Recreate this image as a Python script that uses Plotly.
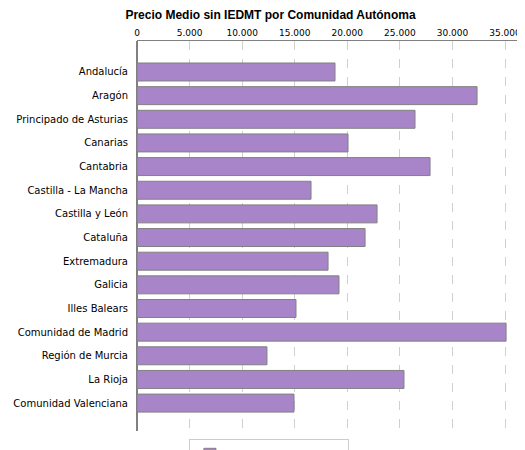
import plotly.graph_objects as go

comunidades = ["Andalucía", "Aragón", "Principado de Asturias", "Canarias", "Cantabria",
               "Castilla - La Mancha", "Castilla y León", "Cataluña", "Extremadura", "Galicia",
               "Illes Balears", "Comunidad de Madrid", "Región de Murcia", "La Rioja",
               "Comunidad Valenciana"]
precio_medio = [18830, 32340, 26440, 20070, 27870, 16550, 22830, 21690, 18170, 19210,
                15120, 35100, 12360, 25390, 14930]
tick_vals = [0, 5000, 10000, 15000, 20000, 25000, 30000, 35000]
tick_text = ["0", "5.000", "10.000", "15.000", "20.000", "25.000", "30.000", "35.000"]

fig = go.Figure(go.Bar(
    x=precio_medio, y=comunidades, orientation="h",
    name="Valor Medio sin IEDMT",
    marker=dict(color="#a885c8", line=dict(color="#808080", width=1)),
    width=0.76,
))

fig.update_layout(
    width=525, height=450,
    margin=dict(l=129, r=8, t=33, b=27, autoexpand=False),
    paper_bgcolor="white", plot_bgcolor="white",
    font=dict(family="DejaVu Sans", size=10, color="black"),
    title=dict(text="<b>Precio Medio sin IEDMT por Comunidad Autónoma</b>",
               x=0.5, xanchor="center", y=0.995, yanchor="top",
               font=dict(size=12, family="Liberation Sans")),
    showlegend=True,
    legend=dict(orientation="h", x=0.34, xanchor="center", y=-0.02, yanchor="top",
                bordercolor="#cccccc", borderwidth=1, itemwidth=30,
                font=dict(family="Liberation Sans", size=11, color="#330066")),
)
fig.update_xaxes(side="top", range=[0, 36900], tickvals=tick_vals, ticktext=tick_text,
                 showgrid=True, gridcolor="#d0d0d0", griddash="dash", automargin=False,
                 showline=True, linecolor="#808080", ticks="", zeroline=True,
                 zerolinecolor="#808080", tickfont=dict(size=9))
fig.update_yaxes(range=[15.18, -1.31], showline=False, ticks="outside", ticklen=6,
                 tickcolor="white", automargin=False, tickfont=dict(size=10))

fig.write_html("out.html")
